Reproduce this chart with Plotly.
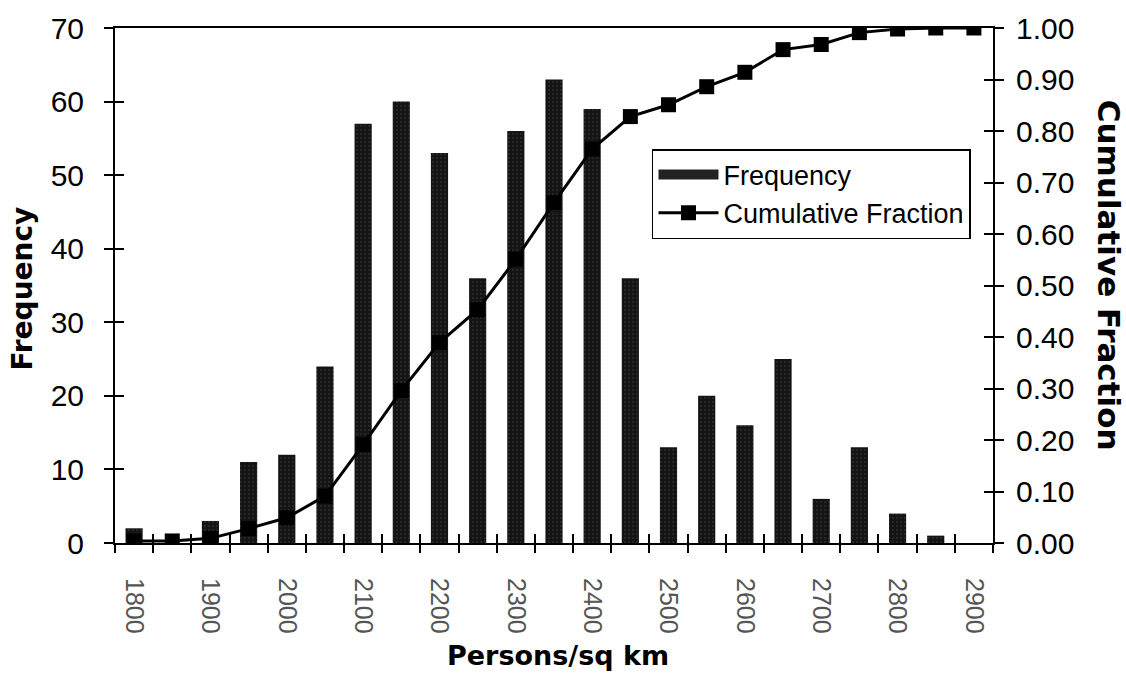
import plotly.graph_objects as go

categories = ["1800", "1850", "1900", "1950", "2000", "2050", "2100", "2150", "2200",
              "2250", "2300", "2350", "2400", "2450", "2500", "2550", "2600", "2650",
              "2700", "2750", "2800", "2850", "2900"]
frequency = [2, 0, 3, 11, 12, 24, 57, 60, 53, 36, 56, 63, 59, 36, 13, 20, 16, 25, 6, 13, 4, 1, 0]
cumulative = [0.004, 0.004, 0.009, 0.028, 0.049, 0.091, 0.191, 0.296, 0.389, 0.453, 0.551,
              0.661, 0.765, 0.828, 0.851, 0.886, 0.914, 0.958, 0.968, 0.991, 0.998, 1.0, 1.0]
x_labels = ["1800", "1900", "2000", "2100", "2200", "2300", "2400", "2500", "2600",
            "2700", "2800", "2900"]

FONT = "Liberation Sans, Arial, sans-serif"
TITLE = "DejaVu Sans, Liberation Sans, sans-serif"
BAR_COLOR = "#141414"
n = len(categories)
boundaries = [i - 0.5 for i in range(n + 1)]

fig = go.Figure()

fig.add_trace(go.Bar(
    x=categories, y=frequency, name="Frequency", showlegend=False,
    marker=dict(color=BAR_COLOR, line=dict(width=0),
                pattern=dict(shape=".", bgcolor=BAR_COLOR, fgcolor="#6a6a6a",
                             size=4, solidity=0.12)),
))
# legend proxy: wide dark swatch like the original key
fig.add_trace(go.Scatter(x=[None], y=[None], name="Frequency", mode="lines",
                         line=dict(color="#222", width=10), hoverinfo="skip"))
fig.add_trace(go.Scatter(
    x=categories, y=cumulative, name="Cumulative Fraction", yaxis="y2",
    mode="lines+markers",
    line=dict(color="black", width=3),
    marker=dict(symbol="square", size=15, color="black"),
))
# empty helpers so the tick-only axes get drawn
for xa, ya in [("x2", "y"), ("x3", "y"), ("x", "y3"), ("x", "y4")]:
    fig.add_trace(go.Scatter(x=[], y=[], xaxis=xa, yaxis=ya, showlegend=False,
                             hoverinfo="skip"))

tick_font = dict(family=FONT, size=30, color="black")
cross = dict(tickwidth=1.5, tickcolor="black", showticklabels=False,
             showgrid=False, zeroline=False, showline=False)

fig.update_layout(
    width=1126, height=677,
    margin=dict(l=115, r=133, t=28, b=134),
    paper_bgcolor="white", plot_bgcolor="white",
    bargap=0.55,
    font=dict(family=FONT, color="black"),
    xaxis=dict(type="category", categoryorder="array", categoryarray=categories,
               range=[-0.5, n - 0.5], tickmode="array", tickvals=x_labels, ticktext=x_labels,
               tickangle=90, ticks="outside", ticklen=28, tickcolor="rgba(0,0,0,0)",
               showline=True, linecolor="black", linewidth=2,
               mirror=True, showgrid=False, zeroline=False,
               tickfont=dict(family=FONT, size=25, color="#555")),
    xaxis2=dict(overlaying="x", anchor="y", side="bottom", range=[-0.5, n - 0.5],
                tickmode="array", tickvals=boundaries, ticks="outside", ticklen=9, **cross),
    xaxis3=dict(overlaying="x", anchor="y", side="bottom", range=[-0.5, n - 0.5],
                tickmode="array", tickvals=boundaries, ticks="inside", ticklen=9, **cross),
    yaxis=dict(range=[0, 70], dtick=10, ticks="outside", ticklen=9, tickwidth=1.5,
               tickcolor="black", showline=True, linecolor="black", linewidth=2,
               showgrid=False, zeroline=False, tickfont=tick_font, ticklabelstandoff=14),
    yaxis3=dict(overlaying="y", side="left", range=[0, 70], dtick=10, ticks="inside",
                ticklen=9, **cross),
    yaxis2=dict(overlaying="y", side="right", range=[0, 1], dtick=0.1, tickformat=".2f",
                ticks="outside", ticklen=9, tickwidth=1.5, tickcolor="black",
                showline=True, linecolor="black", linewidth=2, showgrid=False,
                zeroline=False, tickfont=tick_font, ticklabelstandoff=6),
    yaxis4=dict(overlaying="y", side="right", range=[0, 1], dtick=0.1, ticks="inside",
                ticklen=9, **cross),
    legend=dict(x=0.6116, y=0.765, xanchor="left", yanchor="top",
                bgcolor="white", bordercolor="black", borderwidth=1.5,
                font=dict(family=FONT, size=27, color="black"), tracegroupgap=0,
                itemwidth=60),
    annotations=[
        dict(text="<b>Frequency</b>", xref="paper", yref="paper", x=-0.1054, y=0.495,
             xanchor="center", yanchor="middle", textangle=-90, showarrow=False,
             font=dict(family=TITLE, size=28)),
        dict(text="<b>Cumulative Fraction</b>", xref="paper", yref="paper", x=1.1315,
             y=0.52, xanchor="center", yanchor="middle", textangle=90, showarrow=False,
             font=dict(family=TITLE, size=31)),
        dict(text="<b>Persons/sq km</b>", xref="paper", yref="paper", x=0.504, y=-0.2175,
             xanchor="center", yanchor="middle", showarrow=False,
             font=dict(family=TITLE, size=27)),
    ],
)

fig.write_html("out.html", config={"displayModeBar": False},
               post_script="document.body.style.margin='0px';")
